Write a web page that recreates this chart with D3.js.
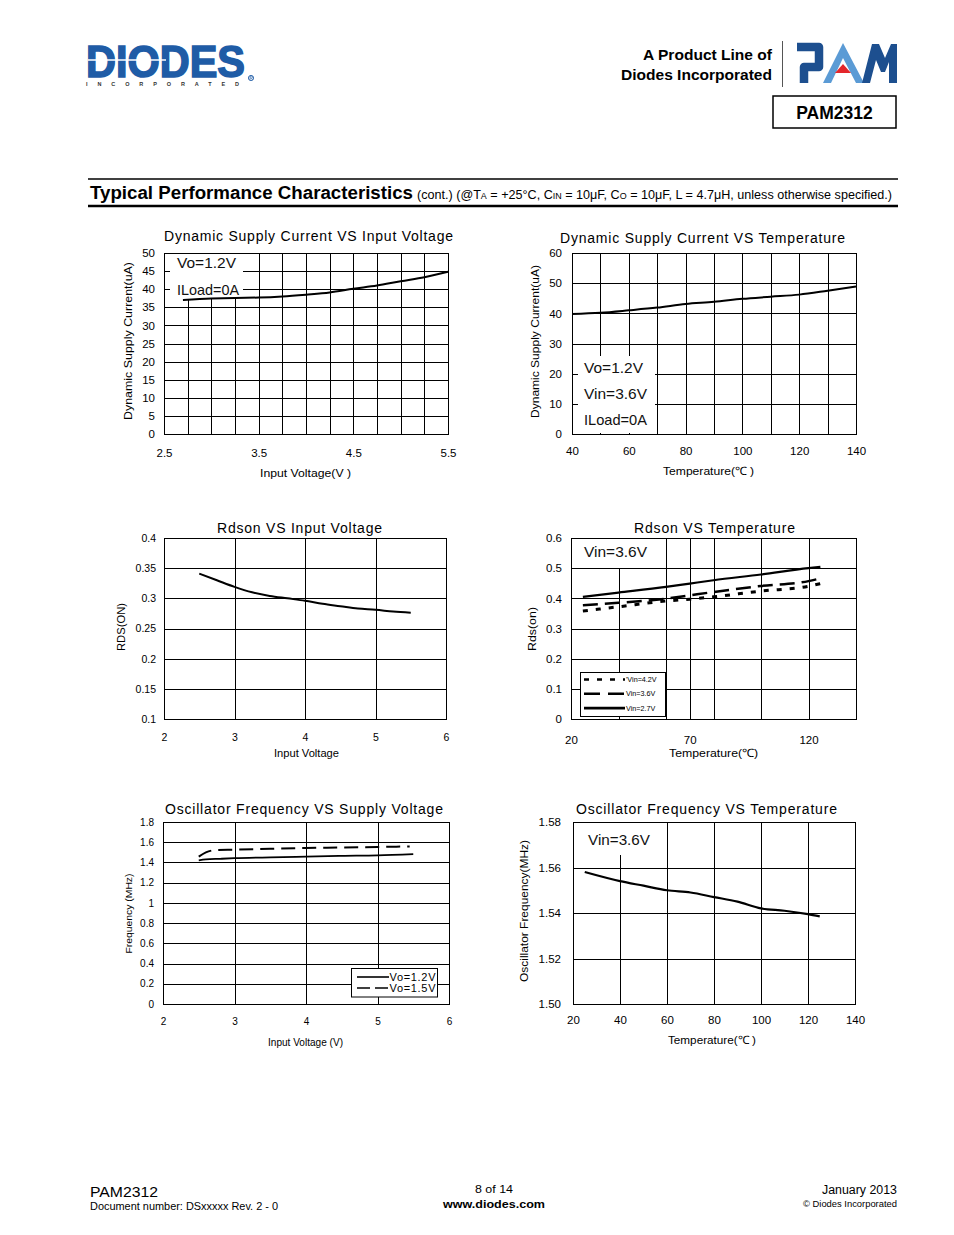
<!DOCTYPE html>
<html>
<head>
<meta charset="utf-8">
<script src="https://cdn.jsdelivr.net/npm/d3@7"></script>
<style>
body { margin: 0; background: #fff; }
svg { display: block; }
text { font-family: "Liberation Sans", Arial, sans-serif; }
</style>
</head>
<body>
<div id="page"></div>
<script>
// ---- data ----
// Dynamic supply current vs input voltage (Vo=1.2V, ILoad=0A)
var dscVin = [2.7, 3.0, 3.25, 3.5, 3.75, 4.0, 4.25, 4.5, 4.75, 5.0, 5.25, 5.5];
var dscVinCur = [37.0, 37.4, 37.6, 37.7, 38.0, 38.5, 39.1, 40.1, 41.0, 42.2, 43.3, 44.8];

// Dynamic supply current vs temperature
var dscTemp = [40, 50, 60, 70, 80, 90, 100, 110, 120, 130, 140];
var dscTempCur = [39.8, 40.2, 41.0, 41.9, 43.1, 43.8, 44.8, 45.5, 46.2, 47.5, 48.9];

// Rdson vs input voltage
var rdsVin = [2.5, 2.75, 3.0, 3.25, 3.5, 3.75, 4.0, 4.25, 4.5, 4.75, 5.0, 5.25, 5.5];
var rdsVinVal = [0.341, 0.330, 0.319, 0.310, 0.304, 0.300, 0.296, 0.291, 0.287, 0.283, 0.281, 0.278, 0.276];

// Rdson vs temperature, three input voltages
var rdsTemp = [25, 40, 60, 70, 80, 100, 120, 125];
var rds42 = [0.358, 0.372, 0.391, 0.397, 0.405, 0.424, 0.440, 0.449];
var rds36 = [0.377, 0.385, 0.399, 0.410, 0.421, 0.441, 0.457, 0.466];
var rds27 = [0.405, 0.419, 0.438, 0.449, 0.460, 0.479, 0.500, 0.504];

// Oscillator frequency vs supply voltage
var oscVin12 = [2.5, 2.6, 2.8, 3.0, 3.5, 4.0, 4.5, 5.0, 5.5];
var osc12 = [1.420, 1.430, 1.436, 1.442, 1.450, 1.458, 1.465, 1.470, 1.482];
var oscVin15 = [2.5, 2.6, 2.75, 3.0, 3.5, 4.0, 4.5, 5.0, 5.45];
var osc15 = [1.457, 1.500, 1.523, 1.526, 1.535, 1.543, 1.548, 1.553, 1.558];

// Oscillator frequency vs temperature
var oscTemp = [25, 40, 50, 60, 70, 80, 90, 100, 110, 120, 125];
var oscTempF = [1.558, 1.554, 1.552, 1.550, 1.549, 1.547, 1.545, 1.542, 1.541, 1.5395, 1.5385];

// ---- tick labels / grid values ----
var c1xTicks = [2.5, 3.5, 4.5, 5.5];
var c1xGrid = [2.75, 3, 3.25, 3.5, 3.75, 4, 4.25, 4.5, 4.75, 5, 5.25];
var c1yTicks = [0, 5, 10, 15, 20, 25, 30, 35, 40, 45, 50];
var c2xTicks = [40, 60, 80, 100, 120, 140];
var c2xGrid = [50, 60, 70, 80, 90, 100, 110, 120, 130];
var c2yTicks = [0, 10, 20, 30, 40, 50, 60];
var c3xTicks = [2, 3, 4, 5, 6];
var c3xGrid = [3, 4, 5];
var c3yTicks = [0.1, 0.15, 0.2, 0.25, 0.3, 0.35, 0.4];
var c4xTicks = [20, 70, 120];
var c4xGrid = [40, 60, 70, 80, 100, 120];
var c4yTicks = [0, 0.1, 0.2, 0.3, 0.4, 0.5, 0.6];
var c5xTicks = [2, 3, 4, 5, 6];
var c5yTicks = [0, 0.2, 0.4, 0.6, 0.8, 1, 1.2, 1.4, 1.6, 1.8];
var c6xTicks = [20, 40, 60, 80, 100, 120, 140];
var c6yTicks = [1.50, 1.52, 1.54, 1.56, 1.58];

var W = 954, H = 1235;
var svg = d3.select("#page").append("svg")
    .attr("width", W)
    .attr("height", H);

var blue = "#1f5ca6";
var plain = d3.format("~g");

// ---- page header ----
svg.append("text")
    .attr("x", 86).attr("y", 77)
    .attr("font-family", "DejaVu Sans")
    .attr("font-weight", "bold")
    .attr("font-size", 44)
    .attr("textLength", 159)
    .attr("lengthAdjust", "spacingAndGlyphs")
    .attr("fill", blue)
    .attr("stroke", blue).attr("stroke-width", 1.6)
    .text("DIODES");
svg.append("line")
    .attr("x1", 88).attr("x2", 166).attr("y1", 60).attr("y2", 60)
    .attr("stroke", "#fff").attr("stroke-width", 1.5);
svg.append("text")
    .attr("x", 86).attr("y", 86)
    .attr("font-size", 5.5).attr("font-weight", "bold")
    .attr("textLength", 153)
    .attr("fill", "#333")
    .text("INCORPORATED");
// registered mark drawn as shapes
svg.append("circle").attr("cx", 251).attr("cy", 78).attr("r", 2.6)
    .attr("fill", "none").attr("stroke", blue).attr("stroke-width", 0.9);
svg.append("path")
    .attr("d", "M250,80 V76.2 H251.6 Q252.6,76.2 252.6,77.1 Q252.6,78 251.6,78 H250 M251.4,78 L252.6,80")
    .attr("fill", "none").attr("stroke", blue).attr("stroke-width", 0.6);

svg.append("text")
    .attr("x", 772).attr("y", 60)
    .attr("text-anchor", "end")
    .attr("font-size", 14.5).attr("font-weight", "bold")
    .attr("textLength", 129).attr("lengthAdjust", "spacingAndGlyphs")
    .text("A Product Line of");
svg.append("text")
    .attr("x", 772).attr("y", 80)
    .attr("text-anchor", "end")
    .attr("font-size", 14.5).attr("font-weight", "bold")
    .attr("textLength", 151).attr("lengthAdjust", "spacingAndGlyphs")
    .text("Diodes Incorporated");
svg.append("line")
    .attr("x1", 782.5).attr("x2", 782.5).attr("y1", 41).attr("y2", 87)
    .attr("stroke", "#555").attr("stroke-width", 1);

// PAM logo
var pamDark = "#1d4f8f", pamLight = "#5b9bd5";
svg.append("path")
    .attr("d", "M797,47 H819 V67 H804 V83")
    .attr("fill", "none").attr("stroke", pamDark).attr("stroke-width", 8.5)
    .attr("stroke-linejoin", "round");
svg.append("polygon")
    .attr("points", "843,43 864,83 856,83 843,58 831,83 823,83")
    .attr("fill", pamLight);
svg.append("polygon")
    .attr("points", "843,64 851,73 835,73")
    .attr("fill", "#e3262b");
svg.append("polygon")
    .attr("points", "862,83 872,44 879,44 885,58 891,44 897,44 897,83 889,83 889,62 885,72 881,72 876,60 870,83")
    .attr("fill", pamDark);

svg.append("rect")
    .attr("x", 773).attr("y", 96).attr("width", 123).attr("height", 32)
    .attr("fill", "none").attr("stroke", "#000").attr("stroke-width", 1.5);
svg.append("text")
    .attr("x", 834.5).attr("y", 119)
    .attr("text-anchor", "middle")
    .attr("font-size", 17.5).attr("font-weight", "bold")
    .text("PAM2312");

// ---- section header ----
svg.append("line").attr("x1", 88).attr("x2", 898).attr("y1", 179).attr("y2", 179)
    .attr("stroke", "#000").attr("stroke-width", 1.5);
svg.append("line").attr("x1", 88).attr("x2", 898).attr("y1", 206).attr("y2", 206)
    .attr("stroke", "#000").attr("stroke-width", 2.5);
svg.append("text")
    .attr("x", 90).attr("y", 199)
    .attr("font-size", 18).attr("font-weight", "bold")
    .attr("textLength", 323).attr("lengthAdjust", "spacingAndGlyphs")
    .text("Typical Performance Characteristics");
var sub = svg.append("text")
    .attr("x", 417).attr("y", 199)
    .attr("font-size", 12)
    .attr("textLength", 475).attr("lengthAdjust", "spacingAndGlyphs");
sub.append("tspan").text("(cont.) (@T");
sub.append("tspan").attr("font-size", 8.5).text("A");
sub.append("tspan").text(" = +25°C, C");
sub.append("tspan").attr("font-size", 8.5).text("IN");
sub.append("tspan").text(" = 10μF, C");
sub.append("tspan").attr("font-size", 8.5).text("O");
sub.append("tspan").text(" = 10μF, L = 4.7μH, unless otherwise specified.)");

// ---- chart builder ----
function drawChart(c) {
    var g = svg.append("g");
    var x = d3.scaleLinear().domain(c.xDomain).range([c.left, c.left + c.width]);
    var y = d3.scaleLinear().domain(c.yDomain).range([c.top + c.height, c.top]);

    // grid
    g.append("g")
        .attr("transform", "translate(0," + (c.top + c.height) + ")")
        .call(d3.axisBottom(x).tickValues(c.xGrid).tickSize(-c.height).tickFormat(""))
        .call(function(s) { s.select(".domain").remove(); })
        .selectAll("line")
        .attr("stroke", "#000")
        .attr("shape-rendering", "crispEdges");
    g.append("g")
        .attr("transform", "translate(" + c.left + ",0)")
        .call(d3.axisLeft(y).tickValues(c.yGrid).tickSize(-c.width).tickFormat(""))
        .call(function(s) { s.select(".domain").remove(); })
        .selectAll("line")
        .attr("stroke", "#000")
        .attr("shape-rendering", "crispEdges");

    // white label area
    if (c.note) {
        g.append("rect")
            .attr("x", c.note.box[0]).attr("y", c.note.box[1])
            .attr("width", c.note.box[2]).attr("height", c.note.box[3])
            .attr("fill", "#fff");
    }

    // plot frame
    g.append("rect")
        .attr("x", c.left).attr("y", c.top)
        .attr("width", c.width).attr("height", c.height)
        .attr("fill", "none").attr("stroke", "#000")
        .attr("shape-rendering", "crispEdges");

    // series
    c.series.forEach(function(s) {
        var pts = s.x.map(function(v, i) { return [v, s.y[i]]; });
        var line = d3.line()
            .x(function(d) { return x(d[0]); })
            .y(function(d) { return y(d[1]); })
            .curve(d3.curveMonotoneX);
        g.append("path")
            .datum(pts)
            .attr("d", line)
            .attr("fill", "none")
            .attr("stroke", "#000")
            .attr("stroke-width", s.width || 2)
            .attr("stroke-dasharray", s.dash || null);
    });

    // note text
    if (c.note) {
        c.note.lines.forEach(function(t, i) {
            g.append("text")
                .attr("x", c.note.x).attr("y", c.note.y + i * c.note.step)
                .attr("font-size", 14.5)
                .attr("textLength", c.note.lens[i]).attr("lengthAdjust", "spacingAndGlyphs")
                .attr("fill", "#111")
                .text(t);
        });
    }

    // tick labels
    var xa = g.append("g")
        .attr("transform", "translate(0," + (c.top + c.height) + ")")
        .call(d3.axisBottom(x).tickValues(c.xTicks).tickSize(0).tickFormat(c.xFmt || plain));
    xa.select(".domain").remove();
    xa.selectAll("text")
        .attr("y", c.xLabelDy).attr("dy", null)
        .attr("font-size", c.tickSize).attr("font-family", "Liberation Sans")
        .attr("fill", "#000");
    var ya = g.append("g")
        .attr("transform", "translate(" + c.left + ",0)")
        .call(d3.axisLeft(y).tickValues(c.yTicks).tickSize(0).tickPadding(c.yPad).tickFormat(c.yFmt || plain));
    ya.select(".domain").remove();
    ya.selectAll("text")
        .attr("font-size", c.tickSize).attr("font-family", "Liberation Sans")
        .attr("fill", "#000");

    // titles
    g.append("text")
        .attr("x", c.title.x).attr("y", c.title.y)
        .attr("text-anchor", "middle")
        .attr("font-size", 14)
        .attr("textLength", c.title.len).attr("lengthAdjust", "spacing")
        .text(c.title.text);
    g.append("text")
        .attr("x", c.xTitle.x).attr("y", c.xTitle.y)
        .attr("text-anchor", "middle")
        .attr("font-size", c.xTitle.size)
        .attr("textLength", c.xTitle.len).attr("lengthAdjust", "spacingAndGlyphs")
        .text(c.xTitle.text);
    g.append("text")
        .attr("transform", "translate(" + c.yTitle.x + "," + c.yTitle.y + ") rotate(-90)")
        .attr("text-anchor", "middle")
        .attr("font-size", c.yTitle.size)
        .attr("textLength", c.yTitle.len).attr("lengthAdjust", "spacingAndGlyphs")
        .text(c.yTitle.text);

    return { g: g, x: x, y: y };
}

// 1. Dynamic supply current vs input voltage
drawChart({
    left: 164, top: 253, width: 284, height: 181,
    xDomain: [2.5, 5.5], yDomain: [0, 50],
    xGrid: c1xGrid, yGrid: c1yTicks.slice(1, -1),
    xTicks: c1xTicks, yTicks: c1yTicks, xFmt: d3.format(".1f"),
    xLabelDy: 23, yPad: 9, tickSize: 11.5,
    series: [{ x: dscVin, y: dscVinCur, width: 2 }],
    note: { box: [170, 253, 73, 46], x: 177, y: 268, step: 27, lines: ["Vo=1.2V", "ILoad=0A"], lens: [59, 62] },
    title: { text: "Dynamic Supply Current VS Input Voltage", x: 308.5, y: 241, len: 289 },
    xTitle: { text: "Input Voltage(V )", x: 305.5, y: 477, size: 11.5, len: 91 },
    yTitle: { text: "Dynamic Supply Current(uA)", x: 132, y: 341, size: 11.5, len: 158 }
});

// 2. Dynamic supply current vs temperature
drawChart({
    left: 572, top: 253, width: 284, height: 181,
    xDomain: [40, 140], yDomain: [0, 60],
    xGrid: c2xGrid, yGrid: c2yTicks.slice(1, -1),
    xTicks: c2xTicks, yTicks: c2yTicks,
    xLabelDy: 21, yPad: 10, tickSize: 11.5,
    series: [{ x: dscTemp, y: dscTempCur, width: 2 }],
    note: { box: [578, 356, 77, 77], x: 584, y: 373, step: 26, lines: ["Vo=1.2V", "Vin=3.6V", "ILoad=0A"], lens: [59, 63, 63] },
    title: { text: "Dynamic Supply Current VS Temperature", x: 702.5, y: 243, len: 285 },
    xTitle: { text: "Temperature(℃ )", x: 708.5, y: 475, size: 11.5, len: 91 },
    yTitle: { text: "Dynamic Supply Current(uA)", x: 539, y: 341.5, size: 11.5, len: 153 }
});

// 3. Rdson vs input voltage
drawChart({
    left: 164, top: 538, width: 282, height: 181,
    xDomain: [2, 6], yDomain: [0.1, 0.4],
    xGrid: c3xGrid, yGrid: c3yTicks.slice(1, -1),
    xTicks: c3xTicks, yTicks: c3yTicks,
    xLabelDy: 22, yPad: 8, tickSize: 10.5,
    series: [{ x: rdsVin, y: rdsVinVal, width: 2 }],
    title: { text: "Rdson VS Input Voltage", x: 299.5, y: 533, len: 165 },
    xTitle: { text: "Input Voltage", x: 306.5, y: 757, size: 10.5, len: 65 },
    yTitle: { text: "RDS(ON)", x: 125, y: 627, size: 11, len: 48 }
});

// 4. Rdson vs temperature
var c4 = drawChart({
    left: 571, top: 538, width: 285, height: 181,
    xDomain: [20, 140], yDomain: [0, 0.6],
    xGrid: c4xGrid, yGrid: c4yTicks.slice(1, -1),
    xTicks: c4xTicks, yTicks: c4yTicks,
    xLabelDy: 25, yPad: 9, tickSize: 11.5,
    series: [
        { x: rdsTemp, y: rds42, width: 3, dash: "5,8" },
        { x: rdsTemp, y: rds36, width: 2.5, dash: "15,7" },
        { x: rdsTemp, y: rds27, width: 2.2 }
    ],
    note: { box: [580, 539, 76, 29], x: 584, y: 557, step: 0, lines: ["Vin=3.6V"], lens: [63] },
    title: { text: "Rdson VS Temperature", x: 714.5, y: 533, len: 161 },
    xTitle: { text: "Temperature(℃)", x: 713.5, y: 757, size: 11.5, len: 89 },
    yTitle: { text: "Rds(on)", x: 536, y: 629, size: 11, len: 44 }
});
var leg4Labels = ["'Vin=4.2V", "Vin=3.6V", "Vin=2.7V"];
var leg4Dash = ["5,8", "16,8", null];
var leg4 = c4.g.append("g");
leg4.append("rect")
    .attr("x", 580.5).attr("y", 672.5).attr("width", 85).attr("height", 44)
    .attr("fill", "#fff").attr("stroke", "#000").attr("stroke-width", 1);
leg4Labels.forEach(function(t, i) {
    var yy = 679.5 + i * 14.3;
    leg4.append("line")
        .attr("x1", 584).attr("x2", 625).attr("y1", yy).attr("y2", yy)
        .attr("stroke", "#000").attr("stroke-width", 2.6)
        .attr("stroke-dasharray", leg4Dash[i]);
    leg4.append("text")
        .attr("x", 626).attr("y", yy + 2.5)
        .attr("font-size", 7.2)
        .text(t);
});

// 5. Oscillator frequency vs supply voltage
var c5 = drawChart({
    left: 163, top: 822, width: 286, height: 182,
    xDomain: [2, 6], yDomain: [0, 1.8],
    xGrid: c5xTicks.slice(1, -1), yGrid: c5yTicks.slice(1, -1),
    xTicks: c5xTicks, yTicks: c5yTicks,
    xLabelDy: 21, yPad: 9, tickSize: 10,
    series: [
        { x: oscVin12, y: osc12, width: 1.8 },
        { x: oscVin15, y: osc15, width: 2, dash: "14,7" }
    ],
    title: { text: "Oscillator Frequency VS Supply Voltage", x: 304, y: 814, len: 278 },
    xTitle: { text: "Input Voltage (V)", x: 305.5, y: 1046, size: 10.5, len: 75 },
    yTitle: { text: "Frequency (MHz)", x: 132, y: 913.5, size: 9.5, len: 80 }
});
var leg5Labels = ["Vo=1.2V", "Vo=1.5V"];
var leg5Dash = [null, "13,5"];
var leg5 = c5.g.append("g");
leg5.append("rect")
    .attr("x", 351.5).attr("y", 968.5).attr("width", 86).attr("height", 28.5)
    .attr("fill", "#fff").attr("stroke", "#000").attr("stroke-width", 1);
leg5Labels.forEach(function(t, i) {
    var yy = 977 + i * 11;
    leg5.append("line")
        .attr("x1", 357).attr("x2", 389).attr("y1", yy).attr("y2", yy)
        .attr("stroke", "#000").attr("stroke-width", 1.6)
        .attr("stroke-dasharray", leg5Dash[i]);
    leg5.append("text")
        .attr("x", 389.5).attr("y", yy + 4)
        .attr("font-size", 11)
        .attr("textLength", 46).attr("lengthAdjust", "spacing")
        .text(t);
});

// 6. Oscillator frequency vs temperature
drawChart({
    left: 573, top: 822, width: 282, height: 182,
    xDomain: [20, 140], yDomain: [1.5, 1.58],
    xGrid: c6xTicks.slice(1, -1), yGrid: c6yTicks.slice(1, -1),
    xTicks: c6xTicks, yTicks: c6yTicks, yFmt: d3.format(".2f"),
    xLabelDy: 20, yPad: 12, tickSize: 11.5,
    series: [{ x: oscTemp, y: oscTempF, width: 2.2 }],
    note: { box: [580, 823, 76, 32], x: 588, y: 845, step: 0, lines: ["Vin=3.6V"], lens: [62] },
    title: { text: "Oscillator Frequency VS Temperature", x: 706.5, y: 814, len: 261 },
    xTitle: { text: "Temperature(℃ )", x: 712, y: 1044, size: 11.5, len: 88 },
    yTitle: { text: "Oscillator Frequency(MHz)", x: 528, y: 911, size: 11.5, len: 142 }
});

// ---- footer ----
function foot(t, x, y, size, anchor, len, bold) {
    svg.append("text")
        .attr("x", x).attr("y", y)
        .attr("text-anchor", anchor)
        .attr("font-size", size)
        .attr("font-weight", bold ? "bold" : null)
        .attr("textLength", len).attr("lengthAdjust", "spacingAndGlyphs")
        .text(t);
}
foot("PAM2312", 90, 1197, 15, "start", 68, false);
foot("Document number: DSxxxxx Rev. 2 - 0", 90, 1210, 11, "start", 188, false);
foot("8 of 14", 494, 1193, 11.5, "middle", 38, false);
foot("www.diodes.com", 494, 1207.5, 11.5, "middle", 102, true);
foot("January 2013", 897, 1194, 12, "end", 75, false);
foot("© Diodes Incorporated", 897, 1207, 9.5, "end", 94, false);
</script>
</body>
</html>
